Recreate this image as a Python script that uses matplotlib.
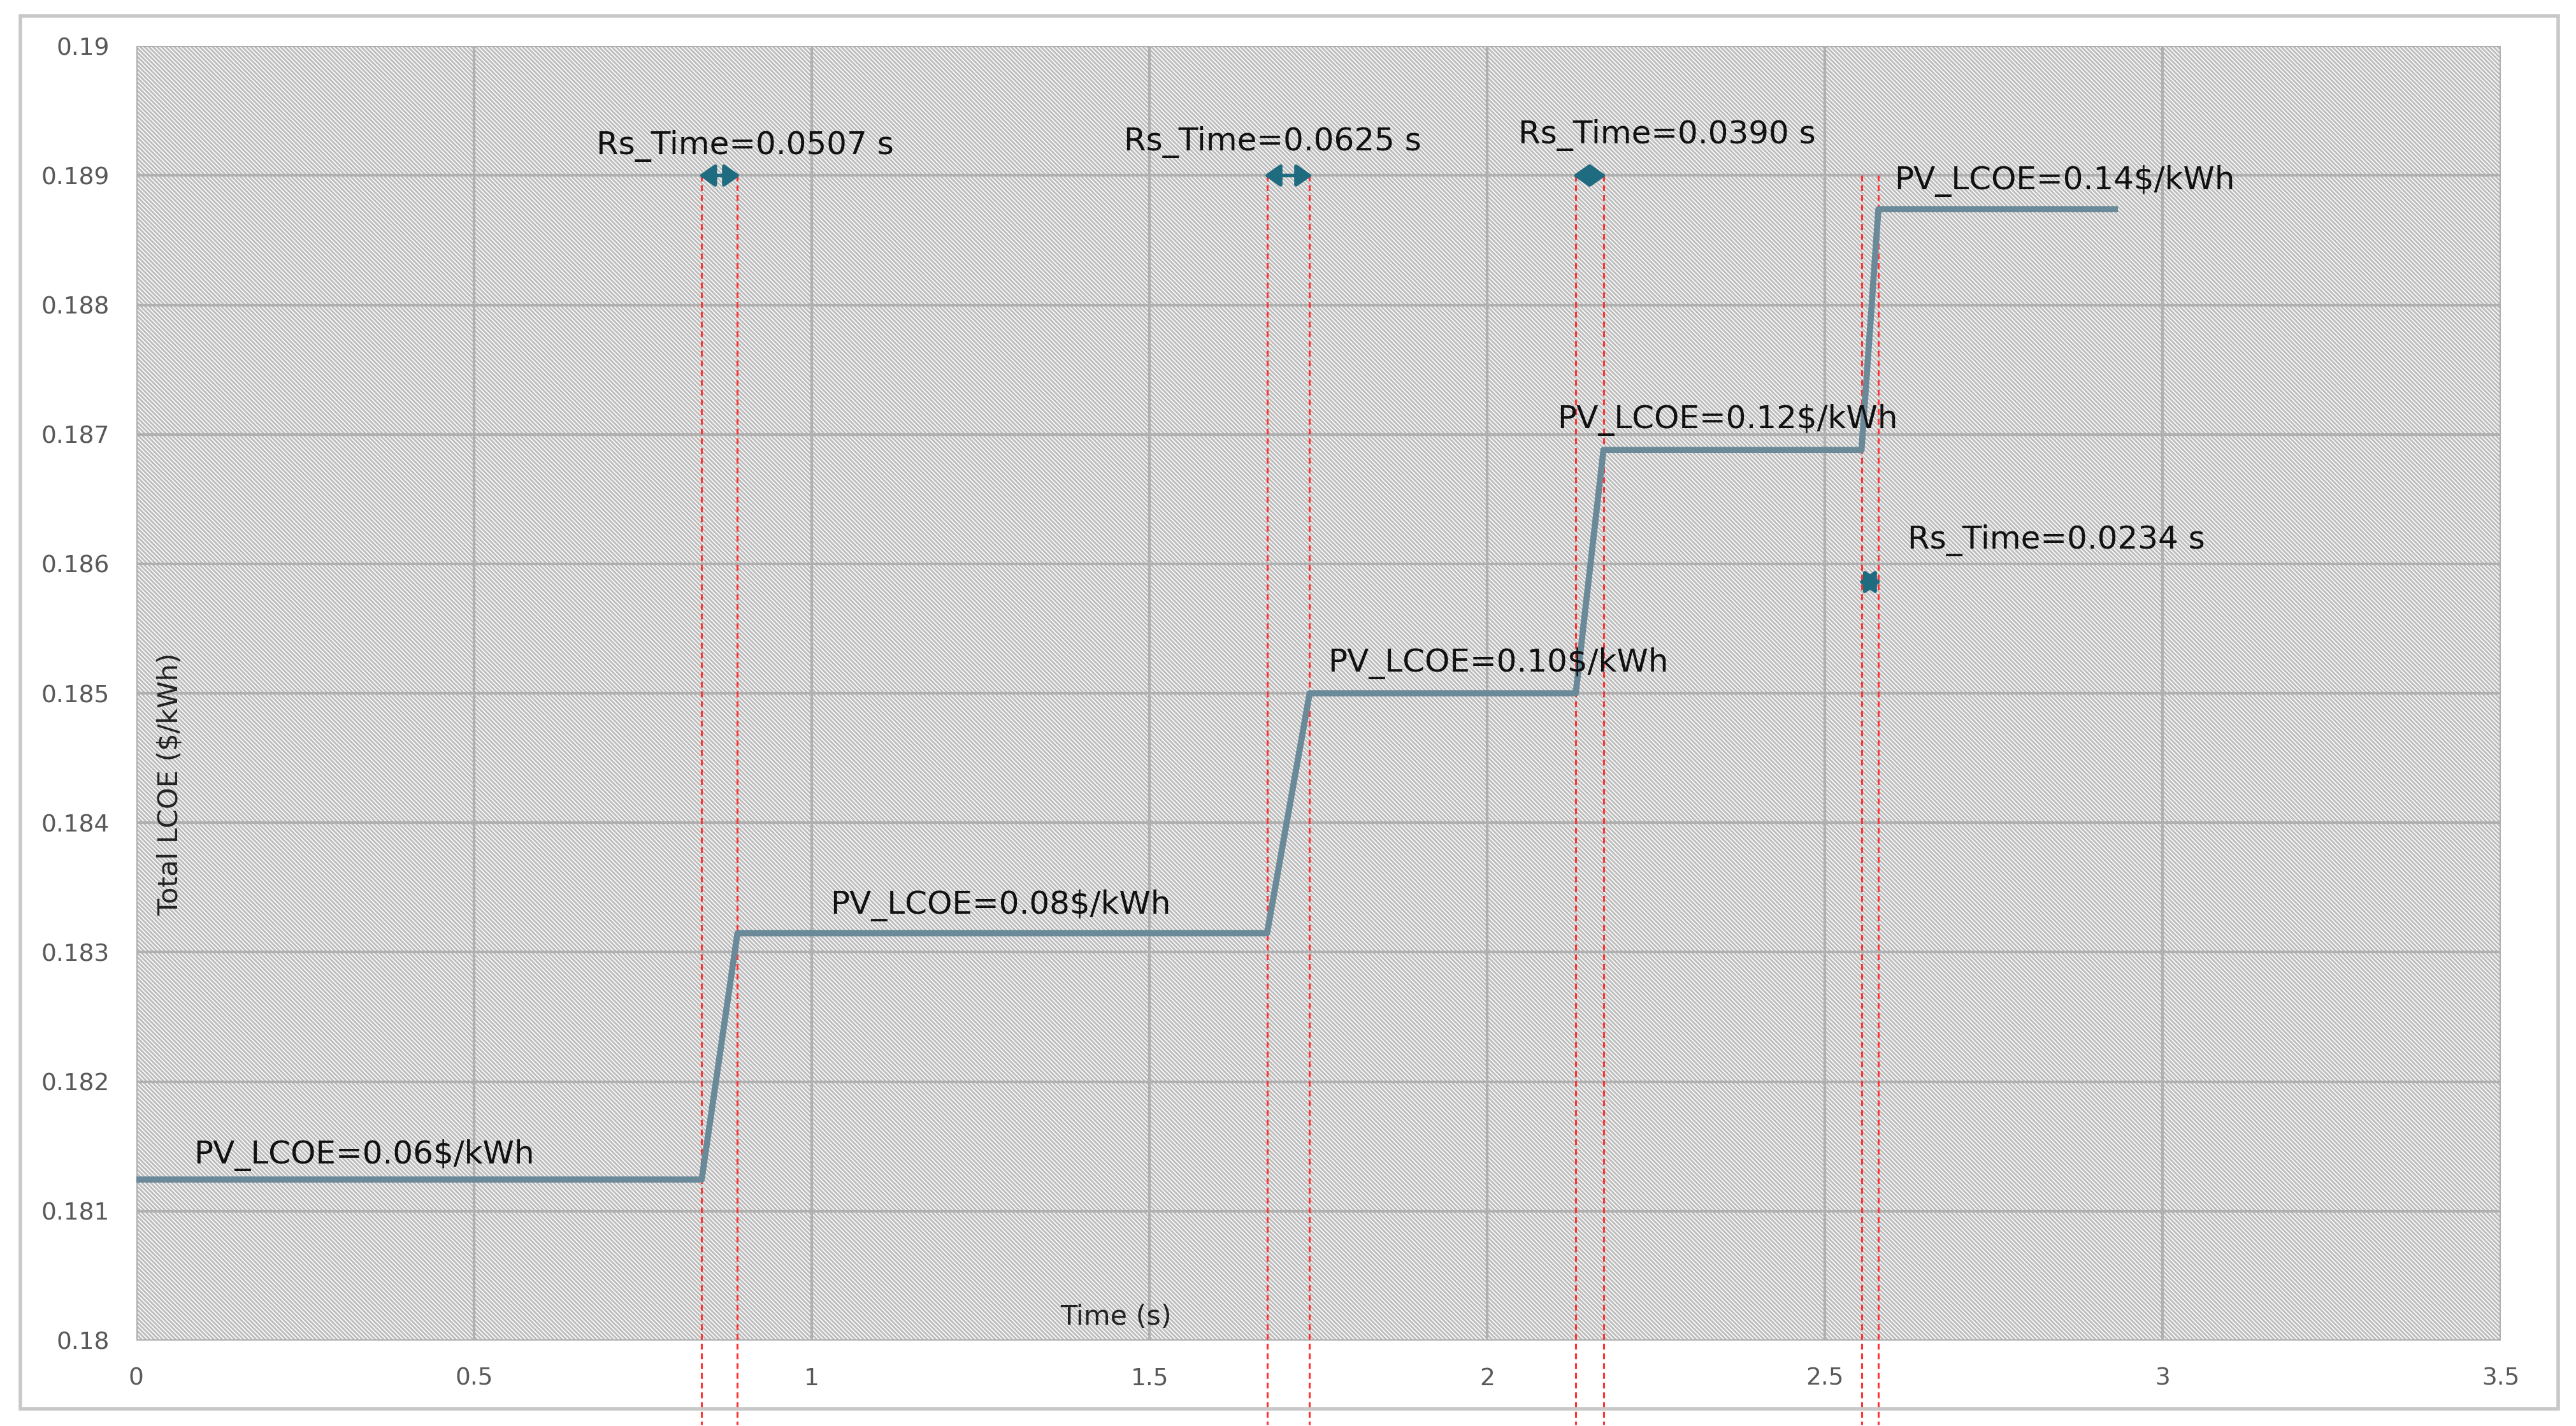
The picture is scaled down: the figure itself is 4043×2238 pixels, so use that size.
import matplotlib
matplotlib.use("Agg")
import matplotlib.pyplot as plt
from matplotlib.patches import Rectangle

# data
time_pts = [0.0, 0.837, 0.890, 1.674, 1.737, 2.131, 2.172, 2.554, 2.579, 2.929]
lcoe_pts = [0.181244, 0.181244, 0.183147, 0.183147, 0.185, 0.185, 0.18688, 0.18688, 0.18874, 0.18874]
rs_pairs = [(0.837, 0.890, 0.189), (1.674, 1.737, 0.189), (2.131, 2.172, 0.189), (2.554, 2.579, 0.18586)]
labels = [
    ("Rs_Time=0.0507 s", 0.681, 0.18923),
    ("Rs_Time=0.0625 s", 1.462, 0.18926),
    ("Rs_Time=0.0390 s", 2.046, 0.18931),
    ("PV_LCOE=0.14$/kWh", 2.603, 0.18896),
    ("PV_LCOE=0.12$/kWh", 2.104, 0.18711),
    ("Rs_Time=0.0234 s", 2.622, 0.18618),
    ("PV_LCOE=0.10$/kWh", 1.764, 0.18523),
    ("PV_LCOE=0.08$/kWh", 1.027, 0.18336),
    ("PV_LCOE=0.06$/kWh", 0.085, 0.18143),
]
xticks = [0, 0.5, 1, 1.5, 2, 2.5, 3, 3.5]
yticks = [0.18, 0.181, 0.182, 0.183, 0.184, 0.185, 0.186, 0.187, 0.188, 0.189, 0.19]

plt.rcParams['hatch.linewidth'] = 2.2
fig = plt.figure(figsize=(40.43, 22.38), dpi=100)
fig.patches.append(Rectangle((0.008, 0.012), 0.985, 0.977, transform=fig.transFigure,
                             fill=False, edgecolor='#c8c8c8', linewidth=4))
ax = fig.add_axes([0.0529, 0.0599, 0.9178, 0.9078])
ax.add_patch(Rectangle((0, 0), 1, 1, transform=ax.transAxes, facecolor='white',
                       edgecolor='#bdbdbd', linewidth=0, hatch='\\\\\\\\\\', zorder=0))
ax.set_xlim(0, 3.5)
ax.set_ylim(0.18, 0.19)
ax.set_xticks(xticks)
ax.set_xticklabels([f"{t:g}" for t in xticks])
ax.set_yticks(yticks)
ax.set_yticklabels([f"{t:g}" for t in yticks])
ax.grid(True, color='#b0b0b0', linewidth=3, zorder=1)
ax.set_axisbelow(True)
for s in ax.spines.values():
    s.set_visible(False)
ax.tick_params(length=0, labelsize=27, labelcolor='#595959', pad=30)

ax.plot(time_pts, lcoe_pts, color='#6b8a99', linewidth=7, zorder=4)

for x0, x1, ya in rs_pairs:
    for xv in (x0, x1):
        ax.plot([xv, xv], [0.189, 0.17935], color='#ff3333', linestyle=(0, (3, 2)),
                linewidth=2.2, clip_on=False, zorder=3)
    ax.annotate('', xy=(x0 - 0.004, ya), xytext=(x1 + 0.004, ya),
                arrowprops=dict(arrowstyle='<|-|>,head_length=0.5,head_width=0.35',
                                color='#1f6b80', lw=4, shrinkA=0, shrinkB=0,
                                mutation_scale=30), zorder=5)

for txt, x, y in labels:
    ax.text(x, y, txt, fontsize=36, color='#111111', ha='left', va='center', zorder=6)

ax.text(1.45, 0.18018, 'Time (s)', fontsize=31, color='#222222', ha='center', va='center')
ax.text(0.05, 0.1843, 'Total LCOE ($/kWh)', fontsize=31, color='#222222', rotation=90,
        ha='center', va='center')

fig.savefig('out.png', dpi=100, facecolor='white')
